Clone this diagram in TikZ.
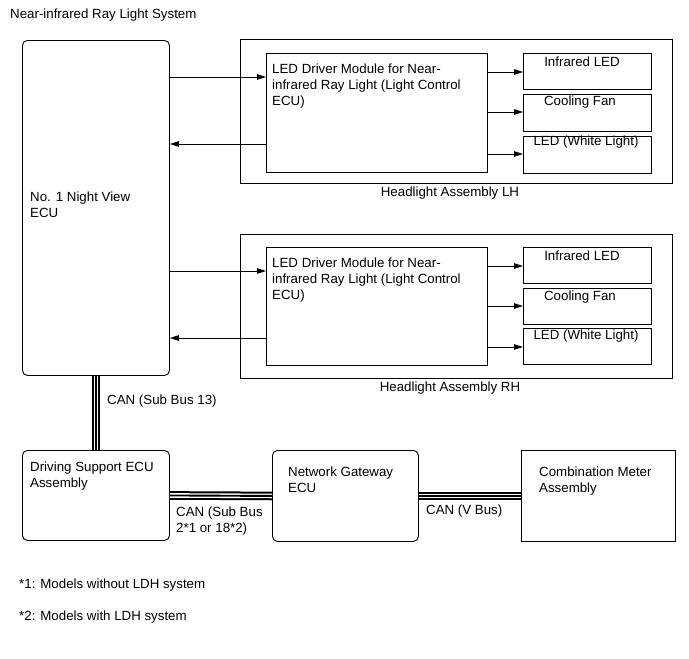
\documentclass[tikz,border=0pt]{standalone}
\usepackage{fontspec}
\setmainfont{Liberation Sans}
\usetikzlibrary{arrows.meta}
\begin{document}
\begin{tikzpicture}[x=1pt,y=-1pt,
  font=\fontsize{13.3}{16}\selectfont,
  box/.style={draw, line width=0.9pt, inner sep=0pt, anchor=north west},
  rbox/.style={box, rounded corners=5pt},
  txt/.style={inner sep=0pt, align=left, anchor=north west},
  lbl/.style={inner sep=0pt, anchor=center},
  arr/.style={line width=0.8pt, -{Triangle[length=9pt,width=5.5pt]}},
  bus/.style={line width=8.6pt, postaction={draw=white,line width=4.6pt}, postaction={draw=black,line width=1.9pt}}]
\useasboundingbox (0,0) rectangle (689,659);

\node[inner sep=0pt, anchor=west] (title) at (10,15) {Near-infrared Ray Light System};

% Night view ECU
\node[rbox, minimum width=147pt, minimum height=335pt] (nv) at (22,40) {};
\node[txt] (nvt) at (30,192) {No. 1 Night View\\ECU};

% Headlight LH
\node[box, minimum width=432pt, minimum height=144pt] (hlL) at (240,39) {};
\node[lbl] (hlLt) at (450,193) {Headlight Assembly LH};
\node[box, minimum width=221pt, minimum height=119pt] (drvL) at (266,53) {};
\node[txt] (drvLt) at (272,64) {LED Driver Module for Near-\\infrared Ray Light (Light Control\\ECU)};
\node[box, minimum width=128pt, minimum height=36pt] (irL) at (523,53) {};
\node[lbl] (irLt) at (582,62) {Infrared LED};
\node[box, minimum width=128pt, minimum height=37pt] (cfL) at (523,94) {};
\node[lbl] (cfLt) at (580,102) {Cooling Fan};
\node[box, minimum width=128pt, minimum height=37pt] (wlL) at (523,136) {};
\node[lbl] (wlLt) at (586,142) {LED (White Light)};

\draw[arr] (nv.east |- 0,77) -- (drvL.west |- 0,77);
\draw[arr] (drvL.west |- 0,144) -- (nv.east |- 0,144);
\draw[arr] (drvL.east |- 0,72) -- (irL.west |- 0,72);
\draw[arr] (drvL.east |- 0,112) -- (cfL.west |- 0,112);
\draw[arr] (drvL.east |- 0,154) -- (wlL.west |- 0,154);

% Headlight RH
\node[box, minimum width=432pt, minimum height=144pt] (hlR) at (240,234) {};
\node[lbl] (hlRt) at (450,388) {Headlight Assembly RH};
\node[box, minimum width=221pt, minimum height=118pt] (drvR) at (266,247) {};
\node[txt] (drvRt) at (272,258) {LED Driver Module for Near-\\infrared Ray Light (Light Control\\ECU)};
\node[box, minimum width=128pt, minimum height=36pt] (irR) at (523,247) {};
\node[lbl] (irRt) at (582,256) {Infrared LED};
\node[box, minimum width=128pt, minimum height=36pt] (cfR) at (523,288) {};
\node[lbl] (cfRt) at (580,297) {Cooling Fan};
\node[box, minimum width=128pt, minimum height=36pt] (wlR) at (523,328) {};
\node[lbl] (wlRt) at (586,336) {LED (White Light)};

\draw[arr] (nv.east |- 0,271) -- (drvR.west |- 0,271);
\draw[arr] (drvR.west |- 0,338) -- (nv.east |- 0,338);
\draw[arr] (drvR.east |- 0,266) -- (irR.west |- 0,266);
\draw[arr] (drvR.east |- 0,306) -- (cfR.west |- 0,306);
\draw[arr] (drvR.east |- 0,347) -- (wlR.west |- 0,347);

% Bottom row
\node[rbox, minimum width=147pt, minimum height=90pt] (dse) at (22,450) {};
\node[txt] (dset) at (30,462) {Driving Support ECU\\Assembly};
\node[rbox, minimum width=146pt, minimum height=91pt] (nge) at (272,450) {};
\node[txt] (nget) at (288,467) {Network Gateway\\ECU};
\node[box, minimum width=154pt, minimum height=91pt] (cm) at (521,450) {};
\node[txt] (cmt) at (539,467) {Combination Meter\\Assembly};

\draw[bus] (nv.south) -- (dse.north);
\draw[bus] (dse.east) -- (nge.west);
\draw[bus] (nge.east) -- (cm.west);

\node[inner sep=0pt, anchor=west] (can1) at (107,401) {CAN (Sub Bus 13)};
\node[txt] (can2) at (176,507) {CAN (Sub Bus\\2*1 or 18*2)};
\node[inner sep=0pt, anchor=west] (can3) at (426,511) {CAN (V Bus)};

\node[inner sep=0pt, anchor=west] (fn1) at (19,585) {*1: Models without LDH system};
\node[inner sep=0pt, anchor=west] (fn2) at (19,617) {*2: Models with LDH system};
\end{tikzpicture}
\end{document}
